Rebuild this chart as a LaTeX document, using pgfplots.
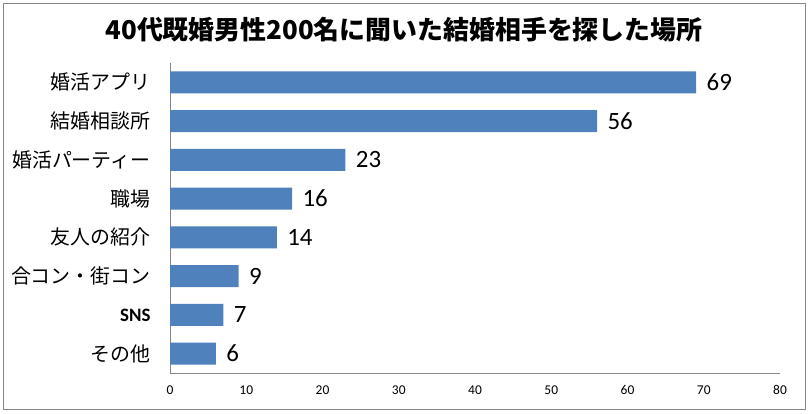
\documentclass[border=0pt]{standalone}
\usepackage{fontspec}
\setmainfont{Noto Sans CJK JP}
\newfontfamily\calib{Carlito}
\usepackage{pgfplots}
\pgfplotsset{compat=1.18}
\definecolor{barblue}{HTML}{4F81BD}
\definecolor{framegray}{HTML}{868686}

\begin{document}
\begin{tikzpicture}
\path[use as bounding box] (0bp,0bp) rectangle (808bp,414bp);
\draw[framegray, line width=1bp] (3.5bp,4bp) rectangle (805bp,410.5bp);
\node[font=\bfseries\fontsize{26}{30}\selectfont] at (404bp,384bp)
  {40代既婚男性200名に聞いた結婚相手を探した場所};
\begin{axis}[
    at={(170bp,41bp)}, anchor=south west,
    width=610bp, height=310bp, scale only axis,
    xmin=0, xmax=80, xtick={0,10,...,80},
    ymin=-0.5, ymax=7.5, ytick={0,...,7},
    yticklabels={その他,{\calib\bfseries\fontsize{19}{21}\selectfont SNS},合コン・街コン,友人の紹介,職場,婚活パーティー,結婚相談所,婚活アプリ},
    axis x line*=bottom, axis y line*=left,
    axis line style={framegray, line width=0.8bp},
    major tick length=0pt,
    /pgf/number format/assume math mode=true,
    xticklabel style={font=\calib\fontsize{13.5}{15}\selectfont, yshift=-9bp},
    yticklabel style={font=\fontsize{20}{22}\selectfont, xshift=-16bp},
    xbar, bar width=22bp,
    nodes near coords,
    nodes near coords style={font=\calib\fontsize{25}{28}\selectfont, text=black, anchor=west, xshift=7bp},
]
% 上から 婚活アプリ ... その他
\addplot[fill=barblue, draw=none] coordinates {
    (6,0) (7,1) (9,2) (14,3) (16,4) (23,5) (56,6) (69,7)
};
\end{axis}
\end{tikzpicture}
\end{document}
